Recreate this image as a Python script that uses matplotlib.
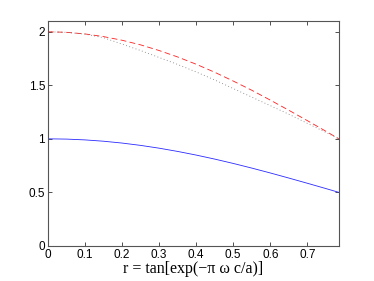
import matplotlib
matplotlib.use('Agg')
import matplotlib.pyplot as plt

# values
r = [0.0, 0.05, 0.1, 0.15, 0.2, 0.25, 0.3, 0.35, 0.4, 0.45, 0.5,
     0.55, 0.6, 0.65, 0.7, 0.75, 0.785]
blue = [1.0, 0.9975, 0.990, 0.9777, 0.9605, 0.9388, 0.9127, 0.8824, 0.8484,
        0.8108, 0.7702, 0.7268, 0.6812, 0.6337, 0.5850, 0.5354, 0.5]
red = [2.0, 1.995, 1.980, 1.955, 1.921, 1.878, 1.825, 1.765, 1.697,
       1.622, 1.540, 1.454, 1.362, 1.267, 1.170, 1.071, 1.0]
dotted = [2.0, 1.995, 1.978, 1.945, 1.885, 1.825, 1.76, 1.695, 1.625,
          1.55, 1.47, 1.39, 1.31, 1.23, 1.145, 1.06, 1.0]
xticks = [0, 0.1, 0.2, 0.3, 0.4, 0.5, 0.6, 0.7]
yticks = [0, 0.5, 1, 1.5, 2]

plt.rcParams['font.family'] = ['Liberation Sans', 'DejaVu Sans']

fig = plt.figure(figsize=(3.74, 2.81), dpi=100)
ax = fig.add_axes([0.128, 0.125, 0.778, 0.8])

ax.plot(r, blue, color='#2a2aff', lw=0.6)
ax.plot(r, red, color='#ff2020', lw=0.6, ls=(0, (7, 4)))
ax.plot(r, dotted, color='#777777', lw=0.6, ls=(0, (1, 3)))

ax.set_xlim(0, 0.785)
ax.set_ylim(0, 2.1)
ax.set_xticks(xticks)
ax.set_xticklabels([f'{t:g}' for t in xticks])
ax.set_yticks(yticks)
ax.set_yticklabels([f'{t:g}' for t in yticks])
ax.tick_params(direction='in', top=True, right=True, length=3, width=0.6,
               labelsize=8.5, pad=2, color='#333333')
for s in ax.spines.values():
    s.set_linewidth(0.8)
    s.set_color('#555555')

ax.set_xlabel('r = tan[exp(\u2212\u03c0 \u03c9 c/a)]', fontsize=11.5,
              family=['Liberation Serif', 'DejaVu Serif'], labelpad=0)

fig.savefig('out.png', dpi=100)
